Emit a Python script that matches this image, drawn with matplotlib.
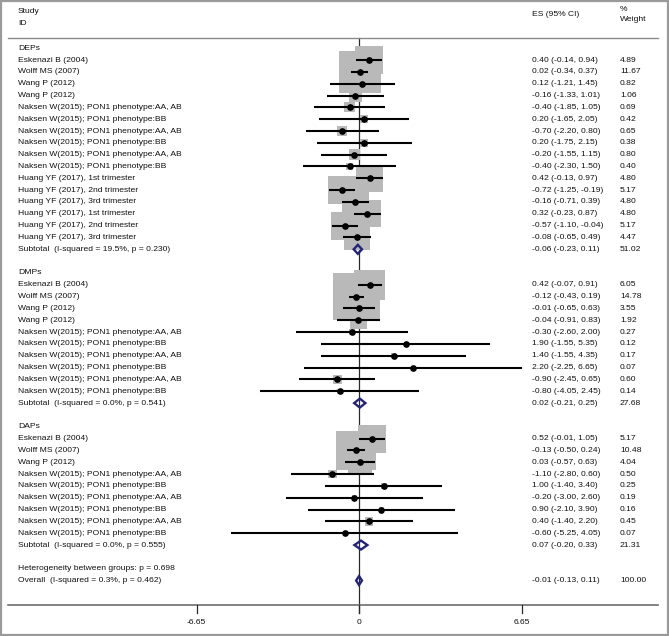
import matplotlib.pyplot as plt
import matplotlib.patches as mpatches
from matplotlib.patches import Polygon

plt.rcParams['font.family'] = ['Liberation Sans', 'DejaVu Sans']

# --- data ---------------------------------------------------------------
naksen_aa = 'Naksen W(2015); PON1 phenotype:AA, AB'
naksen_bb = 'Naksen W(2015); PON1 phenotype:BB'

dep_labels = ['Eskenazi B (2004)', 'Wolff MS (2007)', 'Wang P (2012)', 'Wang P (2012)',
              naksen_aa, naksen_bb, naksen_aa, naksen_bb, naksen_aa, naksen_bb,
              'Huang YF (2017), 1st trimester', 'Huang YF (2017), 2nd trimester',
              'Huang YF (2017), 3rd trimester', 'Huang YF (2017), 1st trimester',
              'Huang YF (2017), 2nd trimester', 'Huang YF (2017), 3rd trimester']
dep_es = [0.40, 0.02, 0.12, -0.16, -0.40, 0.20, -0.70, 0.20, -0.20, -0.40, 0.42, -0.72, -0.16, 0.32, -0.57, -0.08]
dep_lo = [-0.14, -0.34, -1.21, -1.33, -1.85, -1.65, -2.20, -1.75, -1.55, -2.30, -0.13, -1.25, -0.71, -0.23, -1.10, -0.65]
dep_hi = [0.94, 0.37, 1.45, 1.01, 1.05, 2.05, 0.80, 2.15, 1.15, 1.50, 0.97, -0.19, 0.39, 0.87, -0.04, 0.49]
dep_w = [4.89, 11.67, 0.82, 1.06, 0.69, 0.42, 0.65, 0.38, 0.80, 0.40, 4.80, 5.17, 4.80, 4.80, 5.17, 4.47]
dep_sub = (-0.06, -0.23, 0.11, 51.02, 'Subtotal  (I-squared = 19.5%, p = 0.230)')

dmp_labels = ['Eskenazi B (2004)', 'Wolff MS (2007)', 'Wang P (2012)', 'Wang P (2012)',
              naksen_aa, naksen_bb, naksen_aa, naksen_bb, naksen_aa, naksen_bb]
dmp_es = [0.42, -0.12, -0.01, -0.04, -0.30, 1.90, 1.40, 2.20, -0.90, -0.80]
dmp_lo = [-0.07, -0.43, -0.65, -0.91, -2.60, -1.55, -1.55, -2.25, -2.45, -4.05]
dmp_hi = [0.91, 0.19, 0.63, 0.83, 2.00, 5.35, 4.35, 6.65, 0.65, 2.45]
dmp_w = [6.05, 14.78, 3.55, 1.92, 0.27, 0.12, 0.17, 0.07, 0.60, 0.14]
dmp_sub = (0.02, -0.21, 0.25, 27.68, 'Subtotal  (I-squared = 0.0%, p = 0.541)')

dap_labels = ['Eskenazi B (2004)', 'Wolff MS (2007)', 'Wang P (2012)',
              naksen_aa, naksen_bb, naksen_aa, naksen_bb, naksen_aa, naksen_bb]
dap_es = [0.52, -0.13, 0.03, -1.10, 1.00, -0.20, 0.90, 0.40, -0.60]
dap_lo = [-0.01, -0.50, -0.57, -2.80, -1.40, -3.00, -2.10, -1.40, -5.25]
dap_hi = [1.05, 0.24, 0.63, 0.60, 3.40, 2.60, 3.90, 2.20, 4.05]
dap_w = [5.17, 10.48, 4.04, 0.50, 0.25, 0.19, 0.16, 0.45, 0.07]
dap_sub = (0.07, -0.20, 0.33, 21.31, 'Subtotal  (I-squared = 0.0%, p = 0.555)')

groups = [('DEPs', dep_labels, dep_es, dep_lo, dep_hi, dep_w, dep_sub),
          ('DMPs', dmp_labels, dmp_es, dmp_lo, dmp_hi, dmp_w, dmp_sub),
          ('DAPs', dap_labels, dap_es, dap_lo, dap_hi, dap_w, dap_sub)]

het_text = 'Heterogeneity between groups: p = 0.698'
overall = (-0.01, -0.13, 0.11, 100.00, 'Overall  (I-squared = 0.3%, p = 0.462)')
xticks = [-6.65, 0, 6.65]

# --- layout (pixel -> data) ---------------------------------------------
W, H = 669, 636
X0, XS = 359.3, 24.45      # pixel of x=0, pixels per unit
Y0, YS = 48.2, 11.83       # pixel of row 0, pixels per row


def px2x(px):
    return (px - X0) / XS


def py2r(py):
    return (py - Y0) / YS


fig = plt.figure(figsize=(W / 100, H / 100), dpi=100)
ax = fig.add_axes([0, 0, 1, 1])
ax.set_xlim(px2x(0), px2x(W))
ax.set_ylim(py2r(H), py2r(0))
ax.axis('off')

fs = 6.1
tc = '#111111'
x_lab = px2x(18)
x_es = px2x(532)
x_wt = px2x(620)
navy = '#23237a'


def diamond(es, lo, hi, r):
    h = 0.38
    ax.add_patch(Polygon([(lo, r), (es, r - h), (hi, r), (es, r + h)], closed=True,
                         fill=False, edgecolor=navy, linewidth=1.7, zorder=5))


def row_text(r, label, e, l, h, v):
    ax.text(x_lab, r, label, fontsize=fs, color=tc, va='center')
    ax.text(x_es, r, f'{e:.2f} ({l:.2f}, {h:.2f})', fontsize=fs, color=tc, va='center')
    ax.text(x_wt, r, f'{v:.2f}', fontsize=fs, color=tc, va='center')


# headers
ax.text(x_lab, py2r(12), 'Study', fontsize=fs, color=tc, va='center')
ax.text(x_lab, py2r(24), 'ID', fontsize=fs, color=tc, va='center')
ax.text(x_es, py2r(15), 'ES (95% CI)', fontsize=fs, color=tc, va='center')
ax.text(x_wt, py2r(10), '%', fontsize=fs, color=tc, va='center')
ax.text(x_wt, py2r(20), 'Weight', fontsize=fs, color=tc, va='center')
ax.plot([px2x(8), px2x(658)], [py2r(38), py2r(38)], color='#8a8a8a', lw=1.0)

# zero line
ax.plot([0, 0], [py2r(38), py2r(613)], color='#2a2a2a', lw=0.9, zorder=1)

row = 0
for name, labels, es, lo, hi, w, sub in groups:
    ax.text(x_lab, row, name, fontsize=fs, color=tc, va='center')
    row += 1
    rows = list(range(row, row + len(labels)))
    # squares (area proportional to weight)
    ax.scatter(es, rows, s=[78.5 * v for v in w], marker='s', color='#b9b9b9',
               linewidths=0, zorder=2)
    for lab, e, l, h, v, r in zip(labels, es, lo, hi, w, rows):
        ax.plot([l, h], [r, r], color='black', lw=1.5, zorder=3, solid_capstyle='butt')
        ax.plot(e, r, 'o', color='black', markersize=3.8, zorder=4)
        row_text(r, lab, e, l, h, v)
    row += len(labels)
    se, sl, sh, sw, stext = sub
    diamond(se, sl, sh, row)
    row_text(row, stext, se, sl, sh, sw)
    row += 2

ax.text(x_lab, row, het_text, fontsize=fs, color=tc, va='center')
row += 1
oe, ol, oh, ow, otext = overall
diamond(oe, ol, oh, row)
row_text(row, otext, oe, ol, oh, ow)

# x axis
ax.plot([px2x(8), px2x(658)], [py2r(605), py2r(605)], color='#6e6e6e', lw=1.2)
for t in xticks:
    ax.plot([t, t], [py2r(605), py2r(613)], color='#2a2a2a', lw=0.9)
    ax.text(t, py2r(623), f'{t:g}', fontsize=fs, color=tc, ha='center', va='center')

# outer frame
fig.patches.append(mpatches.Rectangle((0.002, 0.002), 0.996, 0.996, transform=fig.transFigure,
                                      fill=False, edgecolor='#9a9a9a', linewidth=1.6))

fig.savefig('out.png', dpi=100)
